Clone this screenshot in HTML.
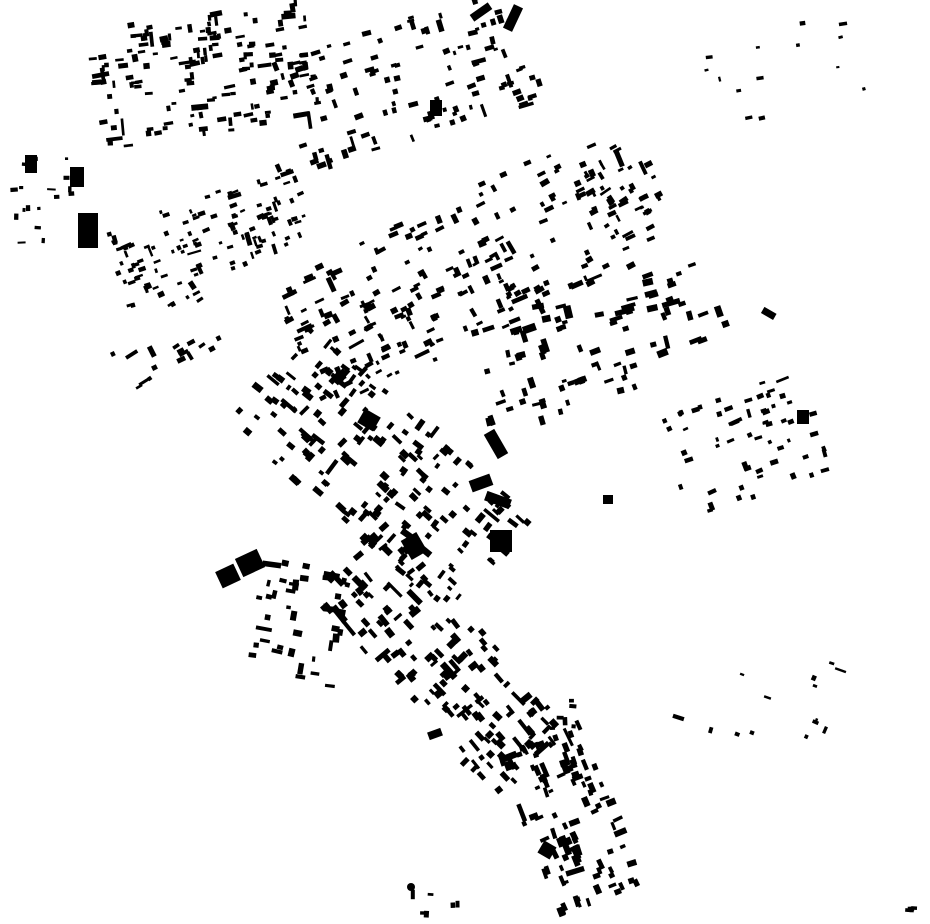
<!DOCTYPE html>
<html><head><meta charset="utf-8"><style>
html,body{margin:0;padding:0;background:#fff;}
svg{display:block}
</style></head><body>
<svg id="s" width="930" height="924" viewBox="0 0 930 924" xmlns="http://www.w3.org/2000/svg">
<g fill="#000">
<rect x="78" y="213" width="20" height="35"/>
<rect x="70" y="167" width="14" height="20"/>
<rect x="25" y="155" width="12" height="18"/>
<rect x="218" y="567" width="20" height="18" transform="rotate(-25 228 576)"/>
<rect x="238" y="553" width="24" height="20" transform="rotate(-25 250 563)"/>
<rect x="490" y="530" width="22" height="22"/>
<rect x="508" y="5" width="10" height="26" transform="rotate(25 513 18)"/>
<rect x="470" y="8" width="22" height="8" transform="rotate(-35 481 12)"/>
<rect x="490" y="430" width="12" height="28" transform="rotate(-30 496 444)"/>
<rect x="485" y="495" width="26" height="10" transform="rotate(20 498 500)"/>
<rect x="762" y="310" width="14" height="7" transform="rotate(30 769 313)"/>
<rect x="603" y="495" width="10" height="9"/>
<rect x="430" y="100" width="12" height="16"/>
<rect x="405" y="535" width="18" height="22" transform="rotate(-30 414 546)"/>
<rect x="428" y="730" width="14" height="8" transform="rotate(-20 435 734)"/>
<rect x="540" y="843" width="14" height="14" transform="rotate(30 547 850)"/>
<circle cx="411" cy="887" r="4"/>
<rect x="797" y="410" width="12" height="14"/>
<rect x="360" y="412" width="18" height="16" transform="rotate(30 369 420)"/>
<rect x="470" y="477" width="22" height="12" transform="rotate(-20 481 483)"/>
</g>
<g id="g" fill="#000"></g>
</svg>
<script>
var seed=12345;function r(){seed=(seed*16807)%2147483647;return (seed-1)/2147483646;}
var C=[
[205,75,220,120,-8,150,6.5],
[410,80,250,120,-18,110,6.5],
[50,200,80,90,0,18,5],
[210,235,200,80,-20,120,5.5],
[165,340,110,70,-30,22,6],
[465,270,380,140,-26,220,6.5],
[600,330,250,90,-18,45,8],
[600,310,240,40,-15,16,9],
[560,395,170,40,-18,25,7],
[380,470,300,130,40,190,7.5],
[300,620,90,120,10,40,7.5],
[440,660,280,100,48,160,7.5],
[570,820,170,90,68,105,7.5],
[745,445,150,110,-20,60,6],
[760,695,160,120,20,14,5],
[775,70,190,90,-10,14,5],
[430,900,60,30,0,6,6],
[900,905,30,20,0,4,5],
[620,190,80,60,-30,25,6],
[565,715,40,40,0,6,6]
];
var h='';
C.forEach(function(c){
 var a=c[4]*Math.PI/180,ca=Math.cos(a),sa=Math.sin(a);
 for(var i=0;i<c[5];i++){
  var u=(r()-.5)*c[2],v=(r()-.5)*c[3];
  var x=c[0]+u*ca-v*sa,y=c[1]+u*sa+v*ca;
  var w=c[6]*(0.6+r()*0.9),hh=c[6]*(0.4+r()*0.5);
  if(r()<.12){w*=1.8;}
  var ang=c[4]+(r()<.3?90:0)+(r()-.5)*10;
  h+='<rect x="'+(x-w/2).toFixed(1)+'" y="'+(y-hh/2).toFixed(1)+'" width="'+w.toFixed(1)+'" height="'+hh.toFixed(1)+'" transform="rotate('+ang.toFixed(1)+' '+x.toFixed(1)+' '+y.toFixed(1)+')"/>';
 }
});
document.getElementById('g').innerHTML=h;
</script>
</body></html>
